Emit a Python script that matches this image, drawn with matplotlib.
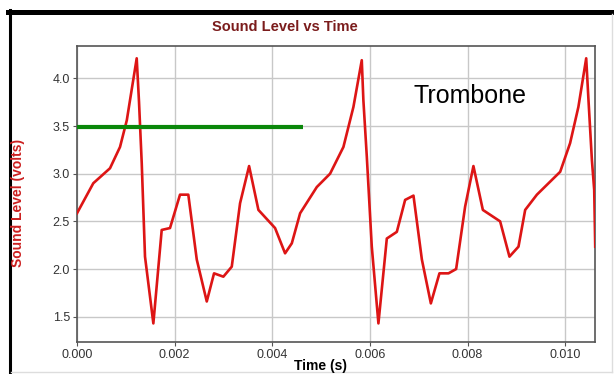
import matplotlib
matplotlib.use("Agg")
import matplotlib.pyplot as plt
from matplotlib.lines import Line2D

plt.rcParams['font.family'] = ['Liberation Sans', 'DejaVu Sans']

title = "Sound Level vs Time"
xlabel = "Time (s)"
ylabel = "Sound Level (volts)"
annotation = "Trombone"

time_s = [0.0, 0.000334, 0.000676, 0.000881, 0.00102, 0.001223, 0.00127, 0.001326,
          0.001393, 0.001564, 0.001735, 0.001905, 0.00211, 0.00228, 0.002453,
          0.002658, 0.002807, 0.002998, 0.00317, 0.00334, 0.003525, 0.003716,
          0.004057, 0.004262, 0.0044, 0.00457, 0.004912, 0.005184, 0.005457,
          0.005662, 0.005833, 0.005866, 0.005936, 0.006038, 0.006174, 0.006346,
          0.006551, 0.006721, 0.006892, 0.007064, 0.007248, 0.007424, 0.007609,
          0.007766, 0.00795, 0.00812, 0.008313, 0.008667, 0.008858, 0.009043,
          0.00918, 0.00942, 0.009897, 0.0101, 0.01027, 0.01043, 0.010477,
          0.010547, 0.010594, 0.010615]
volts = [2.585, 2.90, 3.057, 3.28, 3.56, 4.21, 3.755, 3.11,
         2.13, 1.43, 2.41, 2.43, 2.78, 2.78, 2.10,
         1.66, 1.955, 1.92, 2.025, 2.69, 3.08, 2.62,
         2.43, 2.165, 2.27, 2.585, 2.86, 3.0, 3.28,
         3.70, 4.19, 3.77, 3.18, 2.235, 1.43, 2.32,
         2.39, 2.725, 2.77, 2.10, 1.64, 1.955, 1.955,
         2.0, 2.655, 3.08, 2.62, 2.50, 2.13, 2.235,
         2.62, 2.78, 3.02, 3.32, 3.70, 4.21, 3.77,
         3.14, 2.83, 2.235]

threshold_t = [0.0, 0.004635]
threshold_v = [3.49, 3.49]

xticks = [0.000, 0.002, 0.004, 0.006, 0.008, 0.010]
xticklabels = ["0.000", "0.002", "0.004", "0.006", "0.008", "0.010"]
yticks = [1.5, 2.0, 2.5, 3.0, 3.5, 4.0]
yticklabels = ["1.5", "2.0", "2.5", "3.0", "3.5", "4.0"]

fig = plt.figure(figsize=(6.14, 3.74), dpi=100)
ax = fig.add_axes([77/614, 1-342/374, (594.5-77)/614, (342-46)/374])

ax.plot(time_s, volts, color='#dd1515', lw=1.9, zorder=3, clip_on=True)
ax.plot(threshold_t, threshold_v, color='#0a870a', lw=3.0, zorder=4, solid_capstyle='butt')

ax.set_xlim(0, 0.0106)
ax.set_ylim(1.235, 4.339)
ax.set_xticks(xticks)
ax.set_xticklabels(xticklabels)
ax.set_yticks(yticks)
ax.set_yticklabels(yticklabels)
ax.grid(True, color='#c8c8c8', lw=1.0)
ax.set_axisbelow(True)
for s in ax.spines.values():
    s.set_color('#555555')
    s.set_linewidth(1.2)
ax.tick_params(axis='both', direction='out', length=3, color='#555555',
               labelsize=9, labelcolor='#333333', pad=2)

ax.text(0.00805, 3.81, annotation, fontsize=18, color='black', ha='center', va='center')

fig.text(285/614, 1-27/374, title, fontsize=10.5, fontweight='bold', color='#7b1c1c',
         ha='center', va='center')
fig.text(18/614, 1-203/374, ylabel, fontsize=10, fontweight='bold', color='#cc2020',
         rotation=90, ha='center', va='center')
fig.text(320/614, 1-366/374, xlabel, fontsize=10, fontweight='bold', color='black',
         ha='center', va='center')

# outer frame
fig.add_artist(Line2D([8/614, 1.0], [1-11.5/374, 1-11.5/374], color='black', lw=3.6,
                      transform=fig.transFigure))
fig.add_artist(Line2D([9.5/614, 9.5/614], [0, 1-9.5/374], color='black', lw=2.2,
                      transform=fig.transFigure))
fig.add_artist(Line2D([612/614, 612/614], [2/374, 1-14/374], color='#dddddd', lw=1.0,
                      transform=fig.transFigure))
fig.add_artist(Line2D([11/614, 612/614], [2/374, 2/374], color='#dddddd', lw=1.0,
                      transform=fig.transFigure))

fig.savefig("out.png", dpi=100)
